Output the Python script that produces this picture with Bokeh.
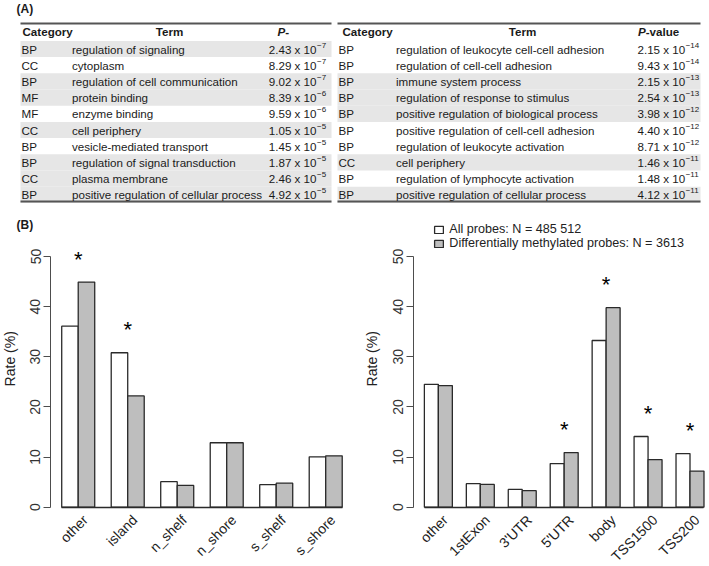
import math
from bokeh.plotting import figure
from bokeh.models import Range1d, ColumnDataSource, FixedTicker, Label, Legend, LegendItem
from bokeh.layouts import column, row
from bokeh.embed import file_html
from bokeh.resources import INLINE
from bokeh.core.properties import value

FONT = "Liberation Sans"

# ---------------- Table (A) data ----------------
cat_left = ["BP", "CC", "BP", "MF", "MF", "CC", "BP", "BP", "CC", "BP"]
term_left = ["regulation of signaling", "cytoplasm", "regulation of cell communication",
             "protein binding", "enzyme  binding", "cell periphery", "vesicle-mediated transport",
             "regulation of signal transduction", "plasma  membrane",
             "positive regulation of cellular process"]
mant_left = ["2.43", "8.29", "9.02", "8.39", "9.59", "1.05", "1.45", "1.87", "2.46", "4.92"]
exp_left = [-7, -7, -7, -6, -6, -5, -5, -5, -5, -5]
shade_left = [1, 0, 1, 1, 0, 1, 0, 1, 1, 1]

cat_right = ["BP", "BP", "BP", "BP", "BP", "BP", "BP", "CC", "BP", "BP"]
term_right = ["regulation of leukocyte cell-cell adhesion", "regulation of cell-cell adhesion",
              "immune  system process", "regulation of response to stimulus",
              "positive regulation of biological process", "positive regulation of cell-cell adhesion",
              "regulation of leukocyte activation", "cell periphery",
              "regulation of lymphocyte  activation", "positive regulation of cellular  process"]
mant_right = ["2.15", "9.43", "2.15", "2.54", "3.98", "4.40", "8.71", "1.46", "1.48", "4.12"]
exp_right = [-14, -14, -13, -13, -12, -12, -12, -11, -11, -11]
shade_right = [0, 0, 1, 1, 1, 0, 0, 1, 0, 1]

header_cat = "Category"
header_term = "Term"
header_p_left = ("P", "-")
header_p_right = ("P", "-value")

# ---------------- Chart (B) data ----------------
cpg_cats = ["other", "island", "n_shelf", "n_shore", "s_shelf", "s_shore"]
cpg_all = [36.1, 30.8, 5.1, 12.85, 4.5, 10.05]
cpg_dmp = [44.9, 22.2, 4.35, 12.85, 4.8, 10.25]
cpg_sig = [True, True, False, False, False, False]

gene_cats = ["other", "1stExon", "3'UTR", "5'UTR", "body", "TSS1500", "TSS200"]
gene_all = [24.5, 4.7, 3.55, 8.7, 33.25, 14.1, 10.7]
gene_dmp = [24.25, 4.55, 3.3, 10.9, 39.8, 9.5, 7.2]
gene_sig = [False, False, False, True, True, True, True]

legend_all = "All probes: N = 485 512"
legend_dmp = "Differentially methylated probes: N = 3613"
y_label = "Rate (%)"
y_ticks = [0, 10, 20, 30, 40, 50]

TXT = "#1a1a1a"
BAR_LINE = "#2a2a2a"
GRAY = "#bebebe"
SHADE = "#e6e6e6"

# ---------------- Top figure: tables ----------------
top = figure(width=709, height=216, x_range=Range1d(0, 709), y_range=Range1d(216, 0),
             min_border=0, outline_line_color=None, x_axis_location=None, y_axis_location=None,
             toolbar_location=None, output_backend="svg")
top.grid.visible = False

top.text(x=[16], y=[8], text=["(A)"], text_font=value(FONT), text_font_size="12px",
         text_font_style="bold", text_baseline="middle", text_color=TXT)

ROW0, PITCH, HDR_Y, RULE_TOP, RULE_BOT = 48.5, 16.2, 31.0, 23.0, 201.0


def draw_table(cats, terms, mants, exps, shades, geo, p_hdr):
    n = len(cats)
    ys = [ROW0 + PITCH * i for i in range(n)]
    sh = [y for y, s in zip(ys, shades) if s]
    top.quad(left=geo["x0"], right=geo["x1"], top=[y - PITCH / 2 for y in sh],
             bottom=[y + PITCH / 2 for y in sh], fill_color=SHADE, line_color=None)
    top.segment(x0=[geo["x0"]] * 2, x1=[geo["x1"]] * 2, y0=[RULE_TOP, RULE_BOT],
                y1=[RULE_TOP, RULE_BOT], line_color="#555555", line_width=2)
    common = dict(text_font=value(FONT), text_font_size="11.6px", text_baseline="middle",
                  text_color=TXT)
    top.text(x=[geo["cat_hdr"]], y=[HDR_Y], text=[header_cat], text_font_style="bold",
             text_align="left", **common)
    top.text(x=[geo["term_hdr"]], y=[HDR_Y], text=[header_term], text_font_style="bold",
             text_align="center", **common)
    top.text(x=[geo["p_split"]], y=[HDR_Y], text=[p_hdr[0]], text_font_style="bold italic",
             text_align="right", **common)
    top.text(x=[geo["p_split"]], y=[HDR_Y], text=[p_hdr[1]], text_font_style="bold",
             text_align="left", **common)
    top.text(x=[geo["cat"]] * n, y=ys, text=cats, text_align="left", **common)
    top.text(x=[geo["term"]] * n, y=ys, text=terms, text_align="left", **common)
    top.text(x=[geo["pend"]] * n, y=ys, text=[f"{m} x 10" for m in mants],
             text_align="right", **common)
    top.text(x=[geo["pend"] + 0.5] * n, y=[y - 4 for y in ys],
             text=["\u2212" + str(abs(e)) for e in exps], text_align="left",
             text_font=value(FONT), text_font_size="8px", text_baseline="middle",
             text_color=TXT)


draw_table(cat_left, term_left, mant_left, exp_left, shade_left,
           dict(x0=20, x1=331, cat=21, cat_hdr=22, term=71.5, term_hdr=169,
                pend=316, p_split=284.7), header_p_left)
draw_table(cat_right, term_right, mant_right, exp_right, shade_right,
           dict(x0=337, x1=700, cat=338, cat_hdr=342, term=395.5, term_hdr=522,
                pend=684.7, p_split=645.2), header_p_right)

# ---------------- Charts ----------------
CH_TOP, CH_BOT = 216, 566
ZERO_PX = 506.7
PX_PER_UNIT_Y = 5.014
Y1 = (ZERO_PX - CH_TOP) / PX_PER_UNIT_Y
Y0 = -(CH_BOT - ZERO_PX) / PX_PER_UNIT_Y
STAR_GAP = 4.6
LABEL_DX_PX = 7
LABEL_Y = -(517 - ZERO_PX) / PX_PER_UNIT_Y
YLAB_DX_PX = 41
YLAB_Y = 29.6


def make_chart(cats, all_v, dmp_v, sig, width, axis_px, px_unit, with_legend):
    n = len(cats)
    xmax = 3 * n
    axis_x = 1 - 0.04 * (xmax - 1)
    x_start = axis_x - axis_px / px_unit
    x_end = x_start + width / px_unit
    p = figure(width=width, height=CH_BOT - CH_TOP, x_range=Range1d(x_start, x_end),
               y_range=Range1d(Y0, Y1), min_border=0, outline_line_color=None,
               toolbar_location=None, output_backend="svg")
    p.grid.visible = False

    centers = [3 * i + 2 for i in range(n)]
    src = ColumnDataSource(dict(xw=[c - 0.5 for c in centers], xg=[c + 0.5 for c in centers],
                                all_v=all_v, dmp_v=dmp_v))
    r_all = p.vbar(x="xw", top="all_v", bottom=0, width=1, source=src, fill_color="white",
                   line_color=BAR_LINE, line_width=1.3)
    r_dmp = p.vbar(x="xg", top="dmp_v", bottom=0, width=1, source=src, fill_color=GRAY,
                   line_color=BAR_LINE, line_width=1.3)

    idx = [i for i, s in enumerate(sig) if s]
    p.text(x=[centers[i] for i in idx], y=[max(all_v[i], dmp_v[i]) + STAR_GAP for i in idx],
           text=["*"] * len(idx), text_align="center", text_baseline="alphabetic",
           text_font=value(FONT), text_font_size="22px", text_color="#000000")

    # category labels (rotated 45 degrees, right end at the group)
    p.text(x=[c + LABEL_DX_PX / px_unit for c in centers], y=[LABEL_Y] * n, text=cats,
           angle=math.pi / 4, text_align="right", text_baseline="middle",
           text_font=value(FONT), text_font_size="14px", text_color="#222222")

    # y axis
    ya = p.yaxis[0]
    ya.fixed_location = axis_x
    ya.bounds = (0, 50)
    ya.ticker = FixedTicker(ticks=y_ticks)
    ya.major_label_orientation = "vertical"
    ya.major_tick_out = 7
    ya.major_tick_in = 0
    ya.minor_tick_out = 0
    ya.minor_tick_in = 0
    ya.axis_line_color = "#4d4d4d"
    ya.major_tick_line_color = "#4d4d4d"
    ya.major_label_standoff = 3
    ya.major_label_text_font = FONT
    ya.major_label_text_font_size = "14px"
    ya.major_label_text_color = "#333333"

    p.add_layout(Label(x=axis_x - YLAB_DX_PX / px_unit, y=YLAB_Y, text=y_label,
                       angle=math.pi / 2, text_align="center", text_baseline="middle",
                       text_font=FONT, text_font_size="14px", text_color="#222222"))

    # x axis: baseline only
    xa = p.xaxis[0]
    xa.fixed_location = 0
    xa.bounds = (1, xmax)
    xa.ticker = FixedTicker(ticks=[])
    xa.major_tick_out = 0
    xa.major_tick_in = 0
    xa.minor_tick_out = 0
    xa.minor_tick_in = 0
    xa.axis_line_color = BAR_LINE
    xa.axis_line_width = 1.3

    if with_legend:
        leg = Legend(items=[LegendItem(label=legend_all, renderers=[r_all]),
                            LegendItem(label=legend_dmp, renderers=[r_dmp])],
                     location=(433.3 - 362, CH_BOT - 250), orientation="vertical",
                     padding=0, margin=0, spacing=0, glyph_width=11, glyph_height=9,
                     label_height=14, label_standoff=5, label_text_font=FONT,
                     label_text_font_size="12.6px", label_text_color="#222222",
                     background_fill_alpha=0, border_line_alpha=0)
        p.add_layout(leg)
    return p, x_start, px_unit


left, lx0, lpu = make_chart(cpg_cats, cpg_all, cpg_dmp, cpg_sig, 362, 50, 16.5, False)
left.add_layout(Label(x=lx0 + 16 / lpu, y=(ZERO_PX - 224) / PX_PER_UNIT_Y, text="(B)",
                      text_font=FONT, text_font_size="12px", text_font_style="bold",
                      text_baseline="middle", text_color=TXT))
right, _, _ = make_chart(gene_cats, gene_all, gene_dmp, gene_sig, 347, 50.7, 13.98, True)

layout = column(top, row(left, right, spacing=0), spacing=0)

with open("out.html", "w") as f:
    f.write(file_html(layout, INLINE))
